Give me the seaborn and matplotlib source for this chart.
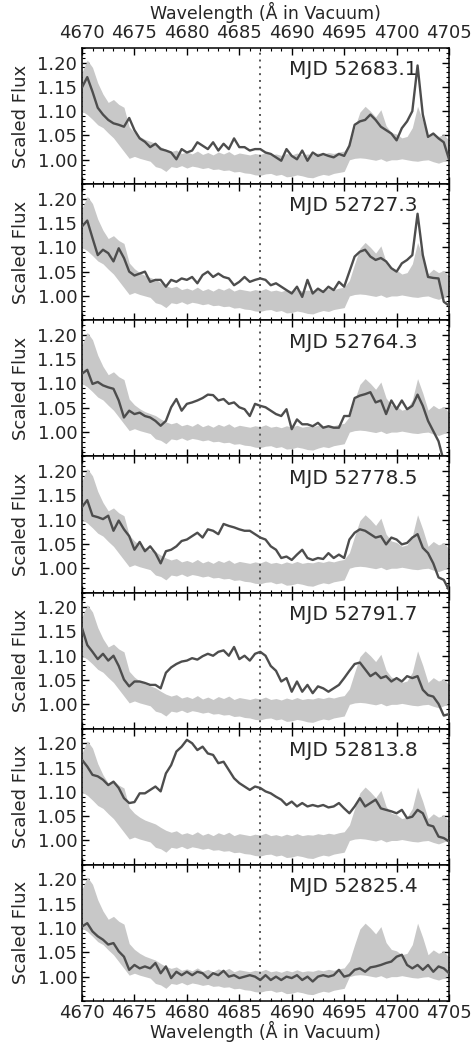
import matplotlib
matplotlib.use('Agg')
import matplotlib.pyplot as plt
import numpy as np
import pandas as pd
import seaborn as sns
from matplotlib.ticker import MultipleLocator, FixedLocator

# wavelength grid (Angstrom), 0.5 A steps
wave = np.arange(4670.0, 4705.01, 0.5)

# grey comparison band (same in every panel)
band_hi = [1.180, 1.205, 1.190, 1.158, 1.135, 1.118, 1.124, 1.114, 1.108, 1.068,
           1.056, 1.048, 1.042, 1.038, 1.034, 1.027, 1.021, 1.017, 1.020, 1.013,
           1.016, 1.012, 1.018, 1.011, 1.015, 1.010, 1.016, 1.012, 1.017, 1.010,
           1.014, 1.012, 1.010, 1.013, 1.011, 1.015, 1.010, 1.012, 1.009, 1.013,
           1.010, 1.014, 1.010, 1.012, 1.011, 1.014, 1.012, 1.015, 1.013, 1.016,
           1.018, 1.032, 1.066, 1.098, 1.110, 1.100, 1.088, 1.103, 1.070, 1.056,
           1.053, 1.045, 1.048, 1.066, 1.110, 1.080, 1.045, 1.055, 1.048, 1.052,
           1.040]
band_lo = [1.100, 1.093, 1.083, 1.072, 1.066, 1.055, 1.045, 1.031, 1.017, 1.003,
           1.007, 1.003, 1.000, 0.997, 0.986, 0.983, 0.976, 0.986, 0.984, 0.988,
           0.983, 0.987, 0.985, 0.982, 0.984, 0.980, 0.981, 0.978, 0.979, 0.975,
           0.976, 0.973, 0.972, 0.969, 0.968, 0.971, 0.972, 0.968, 0.970, 0.965,
           0.966, 0.969, 0.967, 0.964, 0.963, 0.967, 0.970, 0.968, 0.972, 0.974,
           0.976, 1.000, 1.003, 1.004, 1.003, 1.001, 0.999, 1.002, 0.997, 1.000,
           1.000, 1.002, 1.000, 0.998, 0.997, 0.999, 1.000, 0.996, 0.993, 0.997,
           1.003]

mjd_labels = ['MJD 52683.1', 'MJD 52727.3', 'MJD 52764.3', 'MJD 52778.5',
              'MJD 52791.7', 'MJD 52813.8', 'MJD 52825.4']

flux_52683 = [1.149, 1.170, 1.140, 1.107, 1.093, 1.082, 1.075, 1.072, 1.068, 1.086,
              1.061, 1.044, 1.037, 1.026, 1.033, 1.022, 1.019, 1.015, 1.001, 1.022,
              1.015, 1.019, 1.036, 1.029, 1.022, 1.036, 1.019, 1.033, 1.022, 1.044,
              1.026, 1.026, 1.019, 1.022, 1.022, 1.015, 1.012, 1.005, 0.998, 1.022,
              1.008, 1.001, 1.019, 0.998, 1.015, 1.008, 1.012, 1.008, 1.005, 1.012,
              1.008, 1.029, 1.072, 1.079, 1.082, 1.093, 1.082, 1.068, 1.061, 1.054,
              1.040, 1.065, 1.079, 1.100, 1.194, 1.093, 1.047, 1.054, 1.044, 1.036,
              1.001]
flux_52727 = [1.143, 1.155, 1.119, 1.084, 1.095, 1.088, 1.071, 1.098, 1.078, 1.050,
              1.042, 1.046, 1.050, 1.029, 1.033, 1.033, 1.019, 1.033, 1.029, 1.036,
              1.033, 1.039, 1.026, 1.043, 1.050, 1.039, 1.046, 1.039, 1.036, 1.022,
              1.029, 1.039, 1.029, 1.033, 1.036, 1.033, 1.022, 1.026, 1.019, 1.012,
              1.005, 1.019, 0.998, 1.033, 1.005, 1.015, 1.008, 1.019, 1.012, 1.029,
              1.019, 1.050, 1.081, 1.091, 1.095, 1.081, 1.074, 1.078, 1.071, 1.057,
              1.050, 1.067, 1.074, 1.084, 1.169, 1.084, 1.039, 1.037, 1.036, 0.988,
              0.980]
flux_52764 = [1.120, 1.128, 1.099, 1.103, 1.096, 1.092, 1.089, 1.065, 1.030, 1.044,
              1.037, 1.040, 1.033, 1.030, 1.023, 1.013, 1.023, 1.051, 1.068, 1.044,
              1.058, 1.061, 1.065, 1.070, 1.077, 1.076, 1.065, 1.068, 1.058, 1.061,
              1.051, 1.047, 1.033, 1.058, 1.054, 1.051, 1.044, 1.037, 1.033, 1.047,
              1.006, 1.026, 1.016, 1.016, 1.012, 1.019, 1.009, 1.012, 1.009, 1.009,
              1.033, 1.033, 1.070, 1.075, 1.078, 1.082, 1.061, 1.065, 1.037, 1.065,
              1.047, 1.065, 1.047, 1.054, 1.077, 1.054, 1.023, 1.002, 0.981, 0.940,
              0.900]
flux_52778 = [1.126, 1.140, 1.108, 1.105, 1.101, 1.108, 1.077, 1.098, 1.080, 1.066,
              1.038, 1.054, 1.035, 1.045, 1.031, 1.010, 1.035, 1.038, 1.045, 1.056,
              1.059, 1.066, 1.073, 1.063, 1.080, 1.077, 1.070, 1.091, 1.087, 1.084,
              1.080, 1.077, 1.077, 1.070, 1.063, 1.059, 1.045, 1.038, 1.021, 1.024,
              1.017, 1.028, 1.038, 1.021, 1.017, 1.021, 1.019, 1.031, 1.021, 1.028,
              1.021, 1.059, 1.073, 1.080, 1.077, 1.070, 1.063, 1.066, 1.049, 1.063,
              1.059, 1.049, 1.052, 1.063, 1.070, 1.042, 1.031, 1.010, 0.981, 0.976,
              0.955]
flux_52791 = [1.157, 1.122, 1.108, 1.093, 1.104, 1.090, 1.100, 1.079, 1.051, 1.037,
              1.047, 1.047, 1.044, 1.040, 1.040, 1.033, 1.065, 1.076, 1.083, 1.088,
              1.090, 1.095, 1.092, 1.099, 1.104, 1.100, 1.108, 1.111, 1.100, 1.118,
              1.093, 1.100, 1.090, 1.104, 1.108, 1.100, 1.079, 1.069, 1.047, 1.054,
              1.026, 1.047, 1.026, 1.040, 1.023, 1.037, 1.033, 1.026, 1.033, 1.040,
              1.054, 1.069, 1.083, 1.086, 1.072, 1.058, 1.065, 1.054, 1.058, 1.047,
              1.054, 1.047, 1.058, 1.054, 1.058, 1.030, 1.019, 1.016, 1.001, 0.977,
              0.980]
flux_52813 = [1.166, 1.152, 1.135, 1.132, 1.125, 1.114, 1.121, 1.108, 1.087, 1.077,
              1.079, 1.097, 1.097, 1.104, 1.111, 1.101, 1.138, 1.155, 1.183, 1.193,
              1.207, 1.200, 1.186, 1.193, 1.179, 1.176, 1.159, 1.162, 1.145, 1.128,
              1.118, 1.111, 1.104, 1.111, 1.108, 1.101, 1.097, 1.090, 1.084, 1.073,
              1.080, 1.070, 1.077, 1.070, 1.073, 1.070, 1.073, 1.068, 1.070, 1.077,
              1.066, 1.056, 1.070, 1.087, 1.070, 1.077, 1.084, 1.066, 1.063, 1.060,
              1.056, 1.063, 1.046, 1.049, 1.063, 1.056, 1.032, 1.029, 1.008, 1.005,
              0.998]
flux_52825 = [1.103, 1.110, 1.093, 1.083, 1.076, 1.066, 1.069, 1.052, 1.041, 1.014,
              1.024, 1.017, 1.021, 1.017, 1.028, 1.007, 1.021, 0.997, 1.010, 1.003,
              1.010, 1.003, 1.010, 1.007, 0.997, 1.007, 1.003, 1.012, 1.000, 1.003,
              0.997, 1.000, 1.003, 1.000, 0.993, 1.003, 0.993, 1.000, 0.993, 1.000,
              0.997, 1.003, 0.993, 1.000, 0.990, 1.000, 1.003, 1.000, 1.003, 1.014,
              1.000, 1.003, 1.014, 1.017, 1.010, 1.019, 1.021, 1.024, 1.028, 1.031,
              1.041, 1.045, 1.024, 1.017, 1.024, 1.014, 1.024, 1.010, 1.021, 1.017,
              1.007]

spectra = [flux_52683, flux_52727, flux_52764, flux_52778,
           flux_52791, flux_52813, flux_52825]

heii_line = 4687.0  # dotted marker

sns.set_style('ticks')
plt.rcParams['font.family'] = ['DejaVu Sans']
plt.rcParams['font.size'] = 12

fig, axes = plt.subplots(7, 1, figsize=(4.73, 10.61), dpi=100)
fig.subplots_adjust(left=0.1734, right=0.9493, top=0.9548, bottom=0.0566, hspace=0)

for i, ax in enumerate(axes):
    df = pd.DataFrame({'wave': wave, 'flux': spectra[i]})
    ax.fill_between(wave, band_lo, band_hi, color='#c8c8c8', lw=0, zorder=1)
    sns.lineplot(data=df, x='wave', y='flux', ax=ax, color='#4d4d4d', lw=1.7, zorder=3)
    ax.axvline(heii_line, color='#555555', ls=(0, (1, 2.5)), lw=1.4, zorder=2)
    ax.set_xlim(4670, 4705)
    ax.set_ylim(0.95, 1.23)
    ax.yaxis.set_major_locator(FixedLocator([1.00, 1.05, 1.10, 1.15, 1.20]))
    ax.yaxis.set_minor_locator(MultipleLocator(0.01))
    ax.xaxis.set_major_locator(MultipleLocator(5))
    ax.xaxis.set_minor_locator(MultipleLocator(1))
    ax.yaxis.set_major_formatter(plt.FormatStrFormatter('%.2f'))
    ax.tick_params(which='both', direction='in', top=True, right=True,
                   labelbottom=False, labeltop=False, color='black')
    ax.tick_params(which='major', length=5, width=1, labelsize=13)
    ax.tick_params(which='minor', length=2.5, width=0.8)
    for s in ax.spines.values():
        s.set_color('black')
        s.set_linewidth(1.1)
    ax.set_ylabel('Scaled Flux', fontsize=13, labelpad=5)
    ax.set_xlabel('')
    ax.text(0.915, 0.84, mjd_labels[i], transform=ax.transAxes,
            ha='right', va='center', fontsize=14.5)

top = axes[0]
top.tick_params(axis='x', labeltop=True, pad=4.5)
top.xaxis.set_label_position('top')
top.set_xlabel('Wavelength (Å in Vacuum)', fontsize=12.5)
top.xaxis.set_label_coords(0.5, 1.215)

bot = axes[-1]
bot.tick_params(axis='x', labelbottom=True, pad=2.5)
bot.set_xlabel('Wavelength (Å in Vacuum)', fontsize=12.5)
bot.xaxis.set_label_coords(0.5, -0.15)

fig.savefig('out.png', dpi=100)
